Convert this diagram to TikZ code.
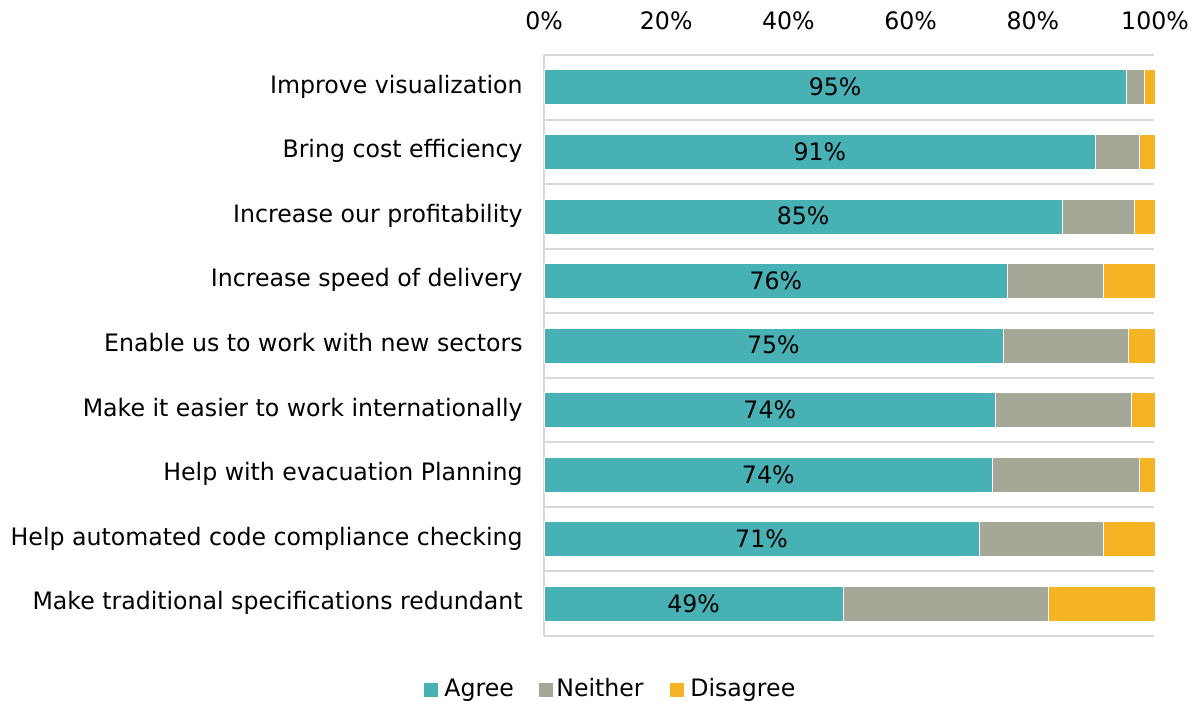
\documentclass[tikz,border=0pt]{standalone}
\usepackage{fontspec}
\setmainfont[FakeStretch=0.985]{DejaVu Sans}
\definecolor{agree}{HTML}{48B1B5}
\definecolor{neither}{HTML}{A5A897}
\definecolor{disagree}{HTML}{F6B324}
\definecolor{gridgray}{HTML}{D9D9D9}
\begin{document}
\begin{tikzpicture}[x=0.5pt,y=-0.5pt,font=\fontsize{12}{14}\selectfont,
    seg/.style={draw=white,line width=0.3pt},
    txt/.style={inner sep=0pt}]
    \def\xo{544}
    \def\pw{6.11}
    \def\rh{64.56}
    \def\yo{55}
    \useasboundingbox (0,0) rectangle (1201,702);
    %% grid and axis
    \foreach \k in {0,...,9}
        \draw[gridgray,line width=1pt] (\xo,{\yo+\k*\rh}) -- (1154,{\yo+\k*\rh});
    \draw[gridgray,line width=1pt] (\xo,\yo) -- (\xo,{\yo+9*\rh});
    %% ticks
    \foreach \p in {0,20,...,100}
        \node[txt,anchor=base] (tick\p) at ({\xo+\p*\pw},29) {\p\%};
    %% bars
    \foreach \n/\a/\b/\v [count=\i] in {Improve visualization/95.3/98.2/95,
        Bring cost efficiency/90.3/97.4/91,
        Increase our profitability/84.8/96.6/85,
        Increase speed of delivery/75.9/91.6/76,
        Enable us to work with new sectors/75.1/95.6/75,
        Make it easier to work internationally/73.9/96.2/74,
        Help with evacuation Planning/73.4/97.4/74,
        Help automated code compliance checking/71.2/91.6/71,
        Make traditional specifications redundant/49.0/82.6/49}
    {
        \pgfmathsetmacro\yc{\yo+(\i-0.5)*\rh}
        \fill[agree,seg] (\xo,\yc-17.5) rectangle ({\xo+\a*\pw},\yc+17.5);
        \fill[neither,seg] ({\xo+\a*\pw},\yc-17.5) rectangle ({\xo+\b*\pw},\yc+17.5);
        \fill[disagree,seg] ({\xo+\b*\pw},\yc-17.5) rectangle ({\xo+100*\pw},\yc+17.5);
        \node[txt,anchor=base east] (label\i) at (523,\yc+6) {\n};
        \node[txt,anchor=base] (value\i) at ({\xo+\a*\pw/2},\yc+8.4) {\v\%};
    }
    %% legend
    \foreach \c/\t/\x/\tx in {agree/Agree/424/444,neither/Neither/539/556,disagree/Disagree/670/690}
    {
        \fill[\c] (\x,683) rectangle +(14,14);
        \node[txt,anchor=base west] (legend\t) at (\tx,696) {\t};
    }
\end{tikzpicture}
\end{document}
